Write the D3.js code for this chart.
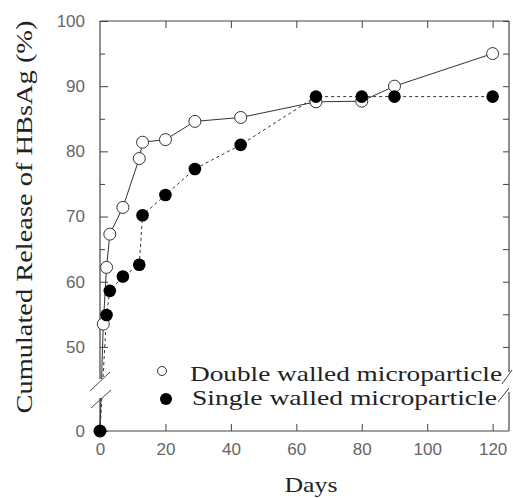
<!DOCTYPE html>
<html>
<head>
<meta charset="utf-8">
<script src="https://cdn.jsdelivr.net/npm/d3@7"></script>
<style>
  html, body { margin: 0; padding: 0; background: #fff; }
  svg { display: block; }
  .tick text { font-family: "Liberation Sans", Arial, sans-serif; font-size: 17px; fill: #666; }
  .tick line { stroke: #444; stroke-width: 1; }
  .ser { font-family: "Liberation Serif", "Times New Roman", serif; fill: #222; }
</style>
</head>
<body>
<div id="chart"></div>
<script>
// release of HBsAg over time
const doubleDays = [0, 1, 2, 3, 7, 12, 13, 20, 29, 43, 66, 80, 90, 120];
const doubleVals = [0, 53.5, 62.2, 67.3, 71.4, 78.9, 81.4, 81.8, 84.6, 85.2, 87.6, 87.7, 90.0, 95.0];
const singleDays = [0, 2, 3, 7, 12, 13, 20, 29, 43, 66, 80, 90, 120];
const singleVals = [0, 54.9, 58.6, 60.8, 62.6, 70.2, 73.3, 77.3, 81.0, 88.4, 88.4, 88.4, 88.4];
const xTicks = [0, 20, 40, 60, 80, 100, 120];
const yMajor = [0, 50, 60, 70, 80, 90, 100];
const yMinor = [55, 65, 75, 85, 95];
const seriesNames = ["Double walled microparticle", "Single walled microparticle"];

const W = 513, H = 498;
const L = 100, R = 509, T = 21, B = 431;

const svg = d3.select("#chart").append("svg")
  .attr("width", W).attr("height", H);

const x = d3.scaleLinear([0, 125], [L, R]);
// broken axis: 0 sits below the break, 44..100 above it
const y = d3.scaleLinear([0, 44, 100], [B, 386, T]);

/* ---- frame & axes -------------------------------------------------- */

const ink = "#444";
const seg = (x1, y1, x2, y2, w = 1.2) => svg.append("line")
  .attr("x1", x1).attr("y1", y1).attr("x2", x2).attr("y2", y2)
  .attr("stroke", ink).attr("stroke-width", w);

seg(L, T, R, T);           // top
seg(L, B, R, B);           // bottom
seg(L, T, L, 379);         // left, above break
seg(L, 398, L, B);         // left, below break
seg(90, 391, 110, 372, 1);
seg(91, 408, 111, 390, 1);
seg(R, T, R, 372);         // right, above break
seg(R, 392, R, B);
seg(502, 384, 512, 370, 1);
seg(498, 402, 509, 388, 1);

const clean = g => g.select(".domain").remove();

svg.append("g").attr("transform", `translate(${L},0)`)
  .call(d3.axisLeft(y).tickValues(yMajor).tickSize(-8).tickPadding(15))
  .call(clean);
svg.append("g").attr("transform", `translate(${L},0)`)
  .call(d3.axisLeft(y).tickValues(yMinor).tickSize(-5).tickFormat(""))
  .call(clean);
svg.append("g").attr("transform", `translate(${R},0)`)
  .call(d3.axisRight(y).tickValues(yMajor.slice(1).concat(yMinor)).tickSize(-6).tickFormat(""))
  .call(clean);
svg.append("g").attr("transform", `translate(0,${B})`)
  .call(d3.axisBottom(x).tickValues(xTicks).tickSize(-7).tickPadding(12))
  .call(clean);
svg.append("g").attr("transform", `translate(0,${T})`)
  .call(d3.axisTop(x).tickValues(xTicks.slice(1)).tickSize(-7).tickFormat(""))
  .call(clean);

/* ---- titles -------------------------------------------------------- */

svg.append("text").attr("class", "ser")
  .attr("x", 311).attr("y", 492)
  .attr("text-anchor", "middle")
  .attr("font-size", 22)
  .attr("textLength", 53).attr("lengthAdjust", "spacingAndGlyphs")
  .text("Days");

svg.append("text").attr("class", "ser")
  .attr("transform", "translate(32,217) rotate(-90)")
  .attr("text-anchor", "middle")
  .attr("font-size", 23)
  .attr("textLength", 393).attr("lengthAdjust", "spacingAndGlyphs")
  .text("Cumulated Release of HBsAg (%)");

/* ---- series -------------------------------------------------------- */

const defs = svg.append("defs");
const clip = defs.append("clipPath").attr("id", "brk");
clip.append("rect").attr("x", 0).attr("y", 0).attr("width", W).attr("height", 379);
clip.append("rect").attr("x", 0).attr("y", 398).attr("width", W).attr("height", H - 398);

const line = d3.line().x(d => x(d[0])).y(d => y(d[1]));
const dbl = doubleDays.map((d, i) => [d, doubleVals[i]]);
const sgl = singleDays.map((d, i) => [d, singleVals[i]]);

svg.append("path").attr("d", line(dbl))
  .attr("fill", "none").attr("stroke", "#333").attr("stroke-width", 1)
  .attr("clip-path", "url(#brk)");
svg.append("path").attr("d", line(sgl))
  .attr("fill", "none").attr("stroke", "#333").attr("stroke-width", 1)
  .attr("stroke-dasharray", "3,3")
  .attr("clip-path", "url(#brk)");

svg.selectAll(".open").data(dbl).join("circle")
  .attr("class", "open")
  .attr("cx", d => x(d[0])).attr("cy", d => y(d[1])).attr("r", 6)
  .attr("fill", "#fff").attr("stroke", "#333").attr("stroke-width", 1);
svg.selectAll(".full").data(sgl).join("circle")
  .attr("class", "full")
  .attr("cx", d => x(d[0])).attr("cy", d => y(d[1])).attr("r", 6.3)
  .attr("fill", "#000");

/* ---- legend -------------------------------------------------------- */

svg.append("circle").attr("cx", 162).attr("cy", 371).attr("r", 4.5)
  .attr("fill", "#fff").attr("stroke", "#333").attr("stroke-width", 1);
svg.append("circle").attr("cx", 166).attr("cy", 399).attr("r", 6)
  .attr("fill", "#000");
seriesNames.forEach((name, i) => {
  svg.append("text").attr("class", "ser")
    .attr("x", i ? 192 : 190).attr("y", i ? 405 : 381)
    .attr("font-size", 21)
    .attr("textLength", i ? 305 : 312).attr("lengthAdjust", "spacingAndGlyphs")
    .text(name);
});
</script>
</body>
</html>
